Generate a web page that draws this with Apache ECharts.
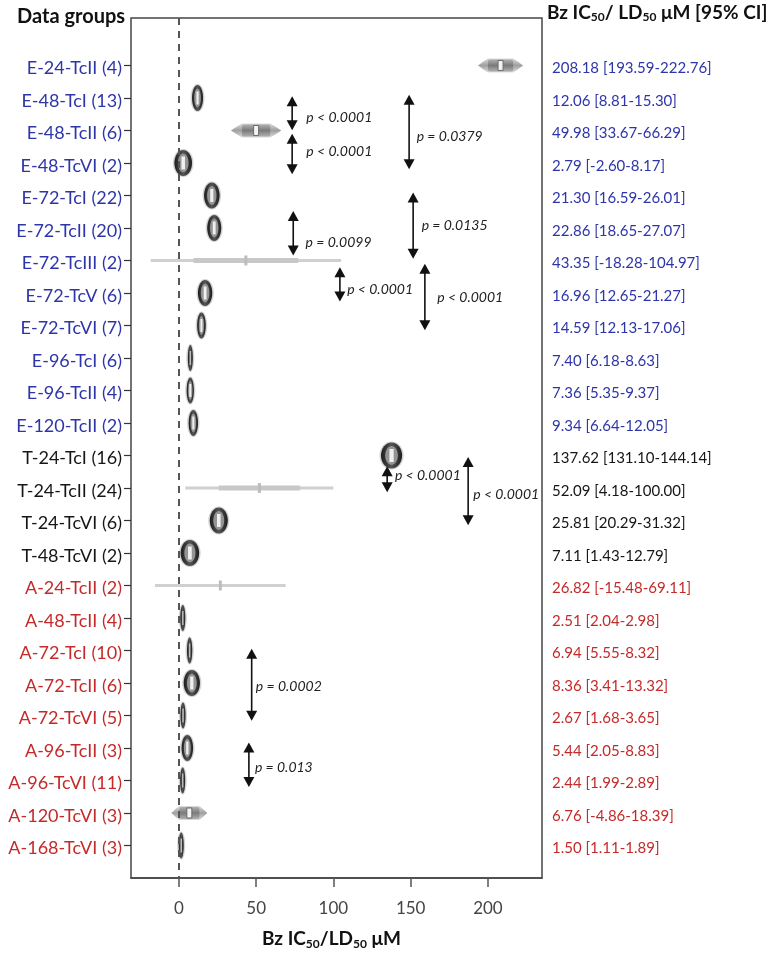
<!DOCTYPE html>
<html><head><meta charset="utf-8">
<script src="https://cdn.jsdelivr.net/npm/echarts@6/dist/echarts.min.js"></script>
<style>html,body{margin:0;padding:0;background:#fff}#c{width:770px;height:955px}</style>
</head><body><div id="c"></div>
<script>
// ---- data ----
const groups = ['E-24-TcII (4)','E-48-TcI (13)','E-48-TcII (6)','E-48-TcVI (2)','E-72-TcI (22)','E-72-TcII (20)','E-72-TcIII (2)','E-72-TcV (6)','E-72-TcVI (7)','E-96-TcI (6)','E-96-TcII (4)','E-120-TcII (2)','T-24-TcI (16)','T-24-TcII (24)','T-24-TcVI (6)','T-48-TcVI (2)','A-24-TcII (2)','A-48-TcII (4)','A-72-TcI (10)','A-72-TcII (6)','A-72-TcVI (5)','A-96-TcII (3)','A-96-TcVI (11)','A-120-TcVI (3)','A-168-TcVI (3)'];
const ic50   = [208.18,12.06,49.98,2.79,21.30,22.86,43.35,16.96,14.59,7.40,7.36,9.34,137.62,52.09,25.81,7.11,26.82,2.51,6.94,8.36,2.67,5.44,2.44,6.76,1.50];
const ciLow  = [193.59,8.81,33.67,-2.60,16.59,18.65,-18.28,12.65,12.13,6.18,5.35,6.64,131.10,4.18,20.29,1.43,-15.48,2.04,5.55,3.41,1.68,2.05,1.99,-4.86,1.11];
const ciHigh = [222.76,15.30,66.29,8.17,26.01,27.07,104.97,21.27,17.06,8.63,9.37,12.05,144.14,100.00,31.32,12.79,69.11,2.98,8.32,13.32,3.65,8.83,2.89,18.39,1.89];
const xTicks = [0,50,100,150,200];
// p-value annotations (x in µM, rows in group index units)
const arrowX    = [73.3,73.3,149,151.6,74,104.2,159.2,134.8,187.2,47.1,45.3];
const arrowFrom = [0.95,2.10,0.90,3.91,4.48,6.21,6.10,12.33,12.05,17.95,20.83];
const arrowTo   = [1.99,3.35,3.19,5.95,5.85,7.26,8.15,13.13,14.15,20.16,22.2];
const pLabels   = ['p < 0.0001','p < 0.0001','p = 0.0379','p = 0.0135','p = 0.0099','p < 0.0001','p < 0.0001','p < 0.0001','p < 0.0001','p = 0.0002','p = 0.013'];
const pLabelX   = [82.5,82.5,153.9,157.1,82.0,108.9,167.2,139.8,190.5,49.8,49.2];
const pLabelRow = [1.6,2.66,2.19,4.93,5.46,6.89,7.15,12.61,13.2,19.1,21.6];

const FONT = 'Lato, "Open Sans", sans-serif';
const rows = groups.map((g,i)=>i);
const colorKey = g => g[0]==='E' ? 'e' : (g[0]==='T' ? 't' : 'a');
const COLS = {e:'#2e35a8', t:'#161616', a:'#c42a2a'};
const mkRich = size => ({
  e:{color:COLS.e,fontSize:size,fontFamily:FONT,padding:[6,0,0,0]},
  t:{color:COLS.t,fontSize:size,fontFamily:FONT,padding:[6,0,0,0]},
  a:{color:COLS.a,fontSize:size,fontFamily:FONT,padding:[6,0,0,0]}
});
const fmt = v => v.toFixed(2);

const markerData = groups.map((g,i)=>[ic50[i], i, ciLow[i], ciHigh[i]]);
const arrowData = arrowX.map((x,i)=>[x, arrowFrom[i], arrowTo[i]]);
const pData = pLabels.map((t,i)=>[pLabelX[i], pLabelRow[i], i]);

function renderMarker(params, api){
  const m = api.value(0), r = api.value(1), lo = api.value(2), hi = api.value(3);
  const c = api.coord([m, r]);
  const pl = api.coord([lo, r])[0], ph = api.coord([hi, r])[0];
  const w = ph - pl, y = c[1], x = c[0];
  const ch = [];
  if (w > 100) {
    ch.push({type:'line', shape:{x1:pl,y1:y,x2:ph,y2:y}, style:{stroke:'#d0d0d0', lineWidth:3}});
    if (w > 140) {
      ch.push({type:'rect', shape:{x:x-0.55*(x-pl), y:y-2.5, width:0.55*(x-pl)+0.55*(ph-x), height:5}, style:{fill:'#c8c8c8'}});
    }
    ch.push({type:'rect', shape:{x:x-1.5, y:y-5, width:3, height:10}, style:{fill:'#bdbdbd'}});
  } else if (w > 30) {
    const pts = [[pl,y],[pl+0.12*w,y-4],[pl+0.22*w,y-7],[ph-0.22*w,y-7],[ph-0.12*w,y-4],[ph,y],
                 [ph-0.12*w,y+4],[ph-0.22*w,y+7],[pl+0.22*w,y+7],[pl+0.12*w,y+4]];
    ch.push({type:'polygon', shape:{points:pts}, style:{fill:new echarts.graphic.LinearGradient(0,0,0,1,[{offset:0,color:'#dcdcdc'},{offset:0.5,color:'#a0a0a0'},{offset:1,color:'#dcdcdc'}])}});
    ch.push({type:'rect', shape:{x:pl+0.22*w, y:y-6, width:w*0.56, height:12, r:2}, style:{fill:new echarts.graphic.LinearGradient(0,0,0,1,[{offset:0,color:'#b0b0b0'},{offset:0.5,color:'#7a7a7a'},{offset:1,color:'#b0b0b0'}])}});
    ch.push({type:'rect', shape:{x:x-2.5, y:y-5, width:5, height:10}, style:{fill:'#f4f4f4', stroke:'#6a6a6a', lineWidth:1}});
  } else {
    const ew = Math.max(w + 1, 5), rx = ew/2, ry = 13;
    ch.push({type:'ellipse', shape:{cx:x, cy:y, rx:rx+1.5, ry:ry+1}, style:{fill:'#b5b5b5', opacity:0.6}});
    ch.push({type:'ellipse', shape:{cx:x, cy:y, rx:rx, ry:ry}, style:{fill:new echarts.graphic.LinearGradient(0,0,1,0,[{offset:0,color:'#1e1e1e'},{offset:0.5,color:'#555'},{offset:1,color:'#1e1e1e'}])}});
    if (ew >= 7) {
      ch.push({type:'ellipse', shape:{cx:x, cy:y, rx:rx*0.6, ry:ry*0.72}, style:{fill:'#949494'}});
      ch.push({type:'rect', shape:{x:x-Math.max(1,ew*0.1), y:y-6.5, width:Math.max(2,ew*0.2), height:13}, style:{fill:'#f0f0f0'}});
    } else {
      ch.push({type:'rect', shape:{x:x-0.75, y:y-7, width:1.5, height:14}, style:{fill:'#bdbdbd'}});
    }
  }
  return {type:'group', children:ch};
}

function renderArrow(params, api){
  const x = api.value(0), a = api.value(1), b = api.value(2);
  const p1 = api.coord([x, a]), p2 = api.coord([x, b]);
  const hw = 5.5, hh = 10, cx = p1[0];
  return {type:'group', children:[
    {type:'line', shape:{x1:cx, y1:p1[1]+hh-1, x2:cx, y2:p2[1]-hh+1}, style:{stroke:'#111', lineWidth:1.6}},
    {type:'polygon', shape:{points:[[cx,p1[1]],[cx-hw,p1[1]+hh],[cx+hw,p1[1]+hh]]}, style:{fill:'#111'}},
    {type:'polygon', shape:{points:[[cx,p2[1]],[cx-hw,p2[1]-hh],[cx+hw,p2[1]-hh]]}, style:{fill:'#111'}}
  ]};
}

function renderP(params, api){
  const p = api.coord([api.value(0), api.value(1)]);
  return {type:'text', x:p[0], y:p[1], style:{text:pLabels[api.value(2)], fill:'#222', font:'italic 14px ' + FONT, align:'left', verticalAlign:'middle'}};
}

const subRich = (big, small) => ({
  b:{fontSize:big, fontWeight:'bold', color:'#111', fill:'#111', fontFamily:FONT},
  s:{fontSize:small, fontWeight:'bold', color:'#111', fill:'#111', fontFamily:FONT, padding:[10,0,0,0]}
});

const chart = echarts.init(document.getElementById('c'), null, {renderer:'canvas'});
chart.setOption({
  animation:false,
  backgroundColor:'#fff',
  grid:{left:131, right:228, top:18, bottom:73, show:true, borderColor:'#454545', borderWidth:1.5},
  xAxis:{
    type:'value', min:-31, max:235, splitLine:{show:false},
    axisLine:{show:true, onZero:false, lineStyle:{color:'#454545', width:1.5}},
    axisTick:{show:true, inside:false, customValues:xTicks, length:9, lineStyle:{color:'#555', width:1.5}},
    axisLabel:{customValues:xTicks, margin:22, fontSize:17, color:'#444', fontFamily:FONT},
    name:'{b|Bz IC}{s|50}{b|/LD}{s|50}{b| μM}', nameLocation:'middle', nameGap:50,
    nameTextStyle:{rich:subRich(19,12), padding:[0,10,0,0]}
  },
  yAxis:[{
    type:'value', inverse:true, min:-1.46, max:25.0, splitLine:{show:false},
    axisLine:{show:false, onZero:false},
    axisTick:{show:true, customValues:rows, length:7, lineStyle:{color:'#333', width:1.2}},
    axisLabel:{customValues:rows, margin:9, formatter:v=>{const g=groups[Math.round(v)]; return '{'+colorKey(g)+'|'+g+'}';}, rich:mkRich(18)}
  },{
    type:'value', position:'right', inverse:true, min:-1.46, max:25.0, splitLine:{show:false},
    axisLine:{show:false, onZero:false}, axisTick:{show:false},
    axisLabel:{customValues:rows, margin:10, align:'left', formatter:v=>{const i=Math.round(v); const g=groups[i]; return '{'+colorKey(g)+'|'+fmt(ic50[i])+' ['+fmt(ciLow[i])+'-'+fmt(ciHigh[i])+']}';}, rich:mkRich(15)}
  }],
  graphic:[
    {type:'text', left:17, top:7, style:{text:'Data groups', font:'bold 20px '+FONT, fill:'#111'}},
    {type:'text', left:547, top:3, style:{text:'{b|Bz IC}{s|50}{b|/ LD}{s|50}{b| μM [95% CI]}', rich:subRich(19,12)}}
  ],
  series:[
    {type:'line', data:[], z:1, silent:true,
     markLine:{silent:true, symbol:['none','none'], label:{show:false}, lineStyle:{color:'#555', width:2, type:[7,6]}, data:[{xAxis:0}]}},
    {type:'custom', z:3, data:markerData, encode:{x:[0,2,3], y:1}, renderItem:renderMarker, silent:true},
    {type:'custom', z:4, data:arrowData, encode:{x:0, y:[1,2]}, renderItem:renderArrow, silent:true},
    {type:'custom', z:4, data:pData, encode:{x:0, y:1}, renderItem:renderP, silent:true}
  ]
});
</script></body></html>
